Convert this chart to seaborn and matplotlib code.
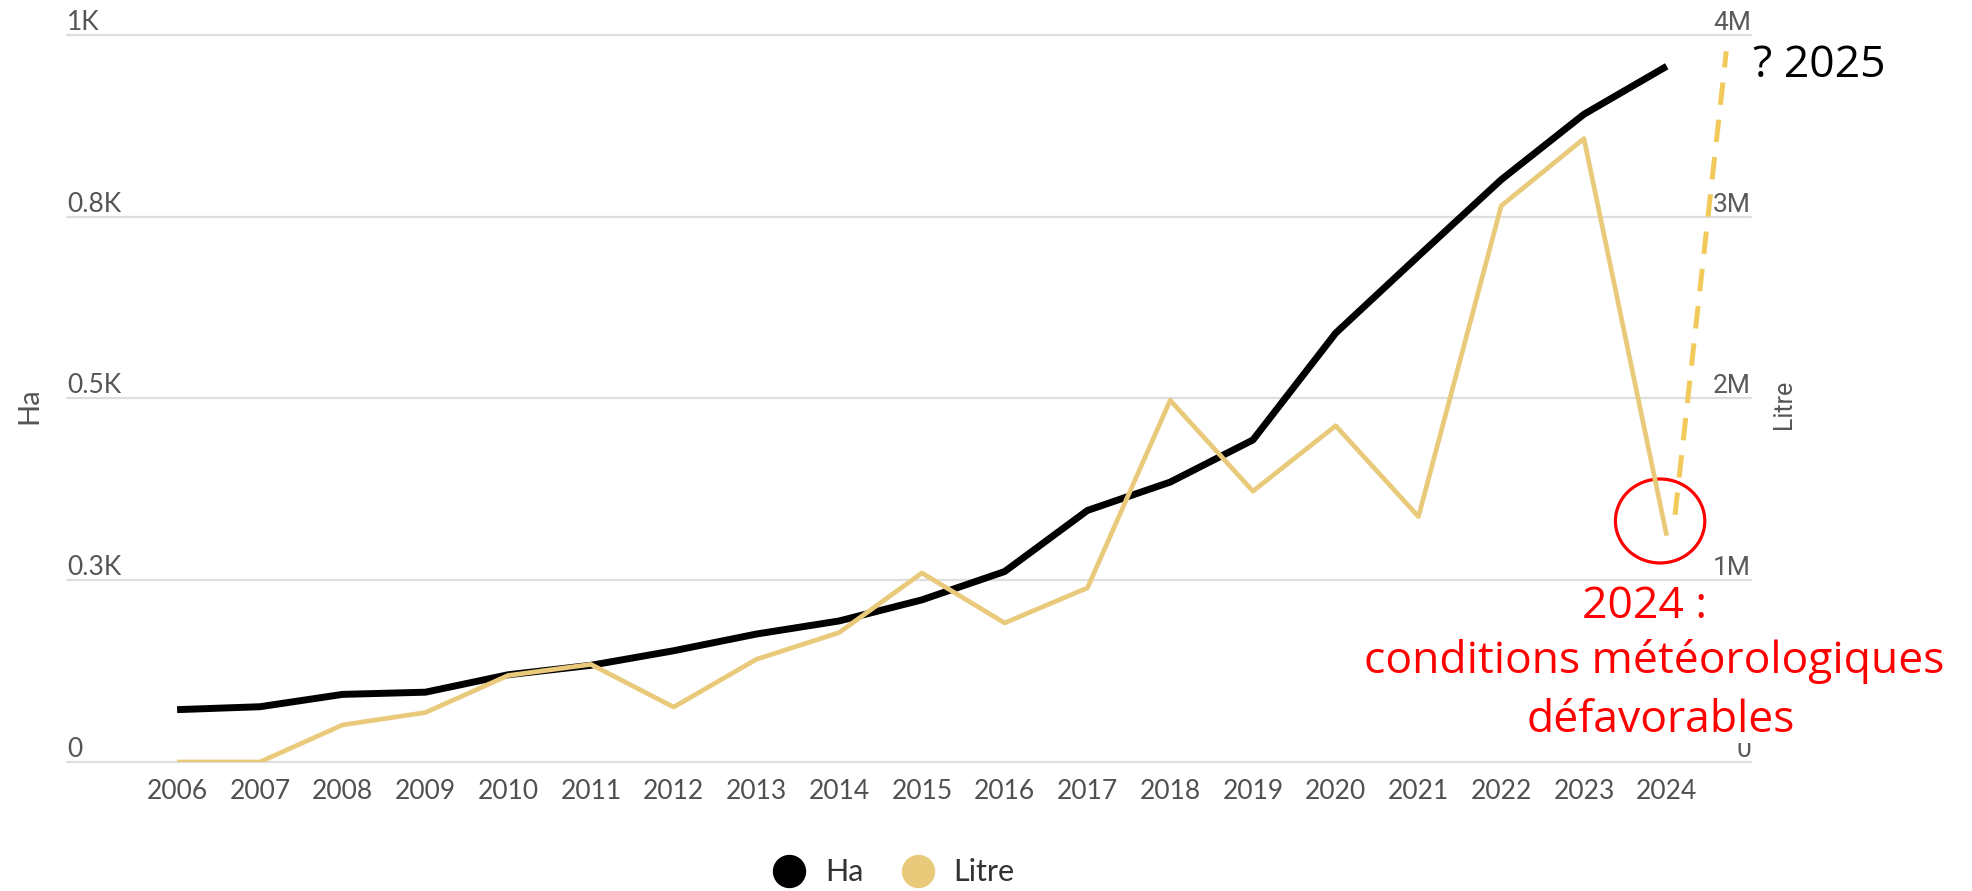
import matplotlib
matplotlib.use('Agg')
import matplotlib.pyplot as plt
from matplotlib.lines import Line2D
from matplotlib.patches import Ellipse
import pandas as pd
import seaborn as sns

# data
years = list(range(2006, 2025))
ha = [72, 76, 93, 96, 120, 133, 153, 176, 194, 223, 262, 346, 385, 443, 590, 696, 801, 891, 957]
litre = [0, 0, 0.204e6, 0.272e6, 0.476e6, 0.537e6, 0.302e6, 0.565e6, 0.712e6, 1.04e6,
         0.765e6, 0.958e6, 1.99e6, 1.49e6, 1.85e6, 1.35e6, 3.06e6, 3.43e6, 1.245e6]
proj_years = [2024.1, 2024.72]
proj_litre = [1.36e6, 3.91e6]

ha_ticks = [0, 250, 500, 750, 1000]
ha_labels = ['0', '0.3K', '0.5K', '0.8K', '1K']
litre_ticks = [0, 1e6, 2e6, 3e6, 4e6]
litre_labels = ['0', '1M', '2M', '3M', '4M']

GOLD = '#E8CA7A'
DASH = '#F2CA5C'
GREY = '#555555'

sns.set_style('white')
plt.rcParams['font.family'] = ['Lato', 'DejaVu Sans']

df = pd.DataFrame({'year': years, 'Ha': ha, 'Litre': litre})

fig = plt.figure(figsize=(19.72, 8.91), dpi=100)
ax = fig.add_axes([0.034, 0.1448, 0.854, 0.8159])
ax2 = ax.twinx()

sns.lineplot(data=df, x='year', y='Ha', ax=ax, color='black', linewidth=5.0,
             solid_capstyle='butt')
sns.lineplot(data=df, x='year', y='Litre', ax=ax2, color=GOLD, linewidth=3.4,
             solid_capstyle='butt')
ax2.plot(proj_years, proj_litre, linestyle=(0, (4.5, 3)), color=DASH, linewidth=3.6,
         dash_capstyle='butt')

# red circle around the 2024 drop
ax2.add_patch(Ellipse((2023.92, 1.326e6), 1.08, 0.462e6, fill=False,
                      edgecolor='red', linewidth=2.3))

ax.set_xlim(2004.67, 2025.02)
ax.set_ylim(0, 1000)
ax2.set_ylim(0, 4e6)

ax.set_xticks(years, labels=[str(y) for y in years])
ax.tick_params(axis='x', length=0, pad=12, labelsize=19, labelcolor='#505050')
ax.set_yticks(ha_ticks, labels=ha_labels, ha='left', va='bottom')
ax.tick_params(axis='y', length=0, pad=0, labelsize=19, labelcolor=GREY)
ax2.set_yticks(litre_ticks, labels=litre_labels, ha='right', va='bottom',
               family=['Roboto', 'DejaVu Sans'])
ax2.tick_params(axis='y', length=0, pad=0, labelsize=19, labelcolor='#5a5a5a')

ax.grid(axis='y', color='#dedede', linewidth=1.6)
ax.grid(axis='x', visible=False)
ax2.grid(False)
for gl in ax.get_ygridlines():
    gl.set_clip_on(False)
for a in (ax, ax2):
    for s in a.spines.values():
        s.set_visible(False)

ax.set_xlabel('')
ax2.set_xlabel('')
ax.set_ylabel('Ha', fontsize=21, color=GREY)
ax.yaxis.set_label_coords(-0.0145, 0.49)
ax2.set_ylabel('Litre', fontsize=18, color=GREY, family=['Roboto', 'DejaVu Sans'])
ax2.yaxis.set_label_coords(1.0125, 0.4925)

handles = [Line2D([], [], marker='o', linestyle='none', markersize=23, color='black'),
           Line2D([], [], marker='o', linestyle='none', markersize=23, color=GOLD)]
fig.legend(handles, ['Ha', 'Litre'], loc='center', bbox_to_anchor=(0.4536, 0.021),
           ncol=2, frameon=False, fontsize=22, handlelength=1, handletextpad=0.68,
           columnspacing=1.26, labelcolor='#333333')

# annotations
red_font = ['Open Sans', 'DejaVu Sans']
fig.text(0.834, 0.3064, '2024 :', ha='center', va='baseline', fontsize=32,
         color='red', family=red_font)
fig.text(0.839, 0.2447, 'conditions météorologiques', ha='center', va='baseline',
         fontsize=32, color='red', family=red_font)
fig.text(0.842, 0.1785, 'défavorables', ha='center', va='baseline', fontsize=32,
         color='red', family=red_font,
         bbox=dict(facecolor='white', edgecolor='none', pad=0))
fig.text(0.889, 0.9136, '? 2025', ha='left', va='baseline', fontsize=32,
         color='black', family=red_font)

fig.savefig('out.png', dpi=100)
